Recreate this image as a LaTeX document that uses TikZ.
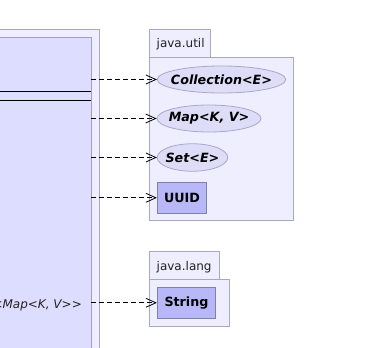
\documentclass[tikz,border=0pt]{standalone}
\usepackage{fontspec}
\setmainfont{DejaVu Sans}
\usetikzlibrary{arrows.meta,shapes.geometric}
\definecolor{pkgfill}{HTML}{EEEEFF}
\definecolor{pkgline}{HTML}{A8A8C0}
\definecolor{clsfill}{HTML}{DDDDFF}
\definecolor{clsline}{HTML}{A0A0C0}
\definecolor{ifcfill}{HTML}{DDDDF8}
\definecolor{ifcline}{HTML}{A8A8C8}
\definecolor{boxfill}{HTML}{B8B8F8}
\definecolor{boxline}{HTML}{8080A8}
\definecolor{txt}{HTML}{222222}
\newcommand{\ifctext}[1]{\makebox[0pt]{#1}}
\tikzset{
  pkg/.style={draw=pkgline,fill=pkgfill,line width=0.8pt},
  ifc/.style={ellipse,draw=ifcline,fill=ifcfill,line width=0.8pt,inner sep=0pt,
    font=\bfseries\itshape\fontsize{12.7}{14}\selectfont},
  cbox/.style={rectangle,draw=boxline,fill=boxfill,line width=0.8pt,inner sep=0pt,
    font=\bfseries\fontsize{12.7}{14}\selectfont},
  dep/.style={draw=black,dash pattern=on 5pt off 3pt,line width=0.7pt,
    -{Straight Barb[length=10pt,width=9pt,line width=0.8pt]}},
  lbl/.style={font=\fontsize{12}{14}\selectfont,inner sep=0pt,text=txt}
}
\begin{document}
\begin{tikzpicture}[x=1pt,y=-1pt]
\useasboundingbox (0,0) rectangle (365,348);
\clip (0,0) rectangle (365,348);
\fill[white] (0,0) rectangle (365,348);

% enclosing package on the left and its class
\draw[pkg] (-20,29.3) rectangle (99.3,370);
\node[draw=clsline,fill=clsfill,line width=0.8pt,rectangle,inner sep=0pt,
  minimum width=111.3pt,minimum height=332.7pt,anchor=north east] (cls) at (91.3,37.3) {};
\draw[line width=0.8pt] (-20,91) -- (91.3,91);
\draw[line width=0.8pt] (-20,100) -- (91.3,100);
\node[lbl,anchor=east,font=\itshape\fontsize{12}{14}\selectfont] (maptype) at (82,305) {<{}<Map<K, V>{}>};

% package java.util
\draw[pkg] (149.3,29.3) rectangle (210.7,57.3);
\draw[pkg] (149.3,57.3) rectangle (293.3,220.5);
\node[lbl,anchor=base west] (utilname) at (156.5,47.5) {java.util};
\node[ifc,minimum width=128.5pt,minimum height=27pt] (coll) at (221.5,79.5) {\ifctext{Collection<E>}};
\node[ifc,minimum width=104pt,minimum height=27pt] (map) at (209,118.5) {\ifctext{Map<K, V>}};
\node[ifc,minimum width=70.5pt,minimum height=27.5pt] (set) at (192.5,157.5) {\ifctext{Set<E>}};
\node[cbox,minimum width=49.5pt,minimum height=31pt] (uuid) at (182,197.8) {UUID};

% package java.lang
\draw[pkg] (149.3,251.7) rectangle (219.3,279.3);
\draw[pkg] (149.3,279.3) rectangle (229.3,326);
\node[lbl,anchor=base west] (langname) at (156.5,270) {java.lang};
\node[cbox,minimum width=58.5pt,minimum height=31pt] (string) at (186.5,302.8) {String};

% dependencies
\draw[dep] (cls.east |- coll) -- (coll.west);
\draw[dep] (cls.east |- map) -- (map.west);
\draw[dep] (cls.east |- set) -- (set.west);
\draw[dep] (cls.east |- uuid) -- (uuid.west);
\draw[dep] (cls.east |- string) -- (string.west);
\end{tikzpicture}
\end{document}
